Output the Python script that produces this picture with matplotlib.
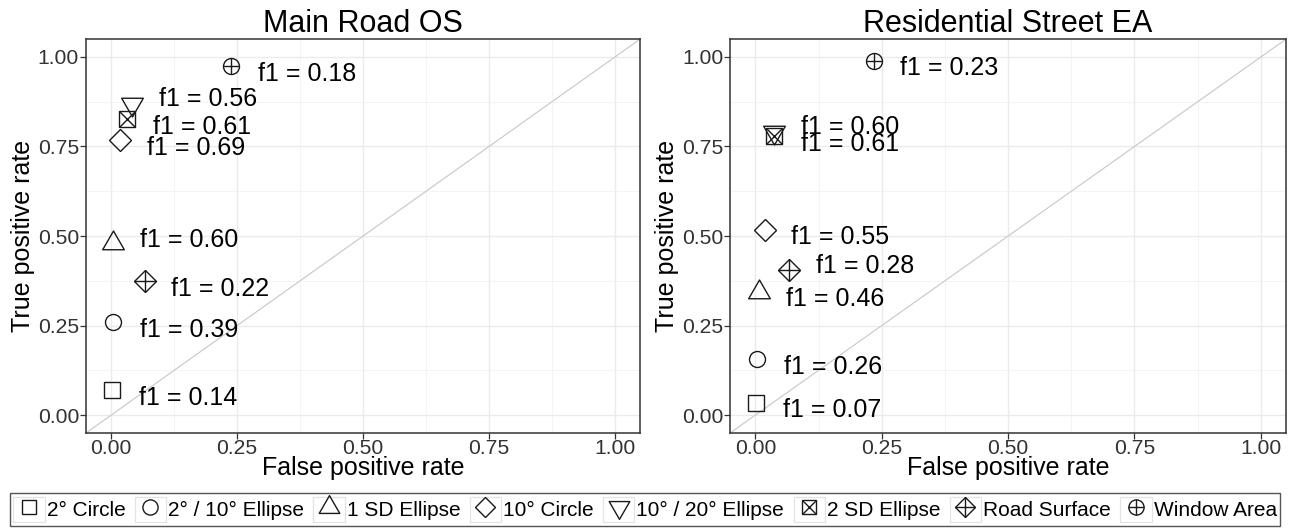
import matplotlib
matplotlib.use("Agg")
import matplotlib.pyplot as plt
from matplotlib.lines import Line2D
from matplotlib.patches import Rectangle
from matplotlib.path import Path
from matplotlib.legend_handler import HandlerTuple

plt.rcParams["font.family"] = ["Liberation Sans", "DejaVu Sans"]

# ---- data ----
methods = ["2° Circle", "2° / 10° Ellipse", "1 SD Ellipse", "10° Circle",
           "10° / 20° Ellipse", "2 SD Ellipse", "Road Surface", "Window Area"]

main_fpr = [0.002, 0.004, 0.004, 0.018, 0.042, 0.031, 0.067, 0.238]
main_tpr = [0.07, 0.26, 0.48, 0.767, 0.868, 0.826, 0.375, 0.975]
main_f1 = [0.14, 0.39, 0.60, 0.69, 0.56, 0.61, 0.22, 0.18]

res_fpr = [0.002, 0.004, 0.008, 0.018, 0.037, 0.037, 0.067, 0.234]
res_tpr = [0.035, 0.157, 0.345, 0.518, 0.79, 0.78, 0.406, 0.99]
res_f1 = [0.07, 0.26, 0.46, 0.55, 0.60, 0.61, 0.28, 0.23]

panels = [("Main Road OS", main_fpr, main_tpr, main_f1),
          ("Residential Street EA", res_fpr, res_tpr, res_f1)]

# ---- styling ----
INK = "#1A1A1A"
tri_up = Path([(0, 1), (-0.866, -0.5), (0.866, -0.5), (0, 1)],
              [Path.MOVETO, Path.LINETO, Path.LINETO, Path.CLOSEPOLY])
tri_down = Path([(0, -1), (-0.866, 0.5), (0.866, 0.5), (0, -1)],
                [Path.MOVETO, Path.LINETO, Path.LINETO, Path.CLOSEPOLY])

# each shape is a list of (marker, size) layers drawn on top of each other
shapes = [
    [("s", 11)],
    [("o", 11.5)],
    [(tri_up, 18)],
    [("D", 11)],
    [(tri_down, 18)],
    [("s", 11), ("x", 11)],
    [("D", 11), ("+", 15.5)],
    [("o", 11.5), ("+", 11.5)],
]

# label nudges in data units; a few labels were pushed upwards in the original
NUDGE_X = 0.15
NUDGE_Y = -0.022
label_dy = {
    (0, 2): 0.008, (0, 4): 0.015,
    (1, 4): 0.014, (1, 6): 0.011,
}


class KeyHandler(HandlerTuple):
    """Overlaid markers inside a faint ggplot-style key box."""

    def create_artists(self, legend, orig_handle, xdescent, ydescent,
                       width, height, fontsize, trans):
        arts = super().create_artists(legend, orig_handle, xdescent, ydescent,
                                      width, height, fontsize, trans)
        box = Rectangle((-xdescent, -ydescent), width, height, fc="none",
                        ec="#E3E3E3", lw=0.9, transform=trans)
        return [box] + arts


fig = plt.figure(figsize=(12.9, 5.28), dpi=100)
axes = [fig.add_axes([0.0667, 0.180, 0.4295, 0.746]),
        fig.add_axes([0.5660, 0.180, 0.4310, 0.746])]

ticks = [0, 0.25, 0.5, 0.75, 1.0]
minor = [0.125, 0.375, 0.625, 0.875]

for p, (ax, (title, fpr, tpr, f1)) in enumerate(zip(axes, panels)):
    ax.set_xlim(-0.05, 1.05)
    ax.set_ylim(-0.05, 1.05)
    ax.set_xticks(ticks)
    ax.set_yticks(ticks)
    ax.set_xticks(minor, minor=True)
    ax.set_yticks(minor, minor=True)
    ax.set_xticklabels([f"{t:.2f}" for t in ticks])
    ax.set_yticklabels([f"{t:.2f}" for t in ticks])
    ax.grid(which="major", color="#EBEBEB", lw=1.0, zorder=0)
    ax.grid(which="minor", color="#F2F2F2", lw=0.6, zorder=0)
    ax.set_axisbelow(True)
    ax.tick_params(which="major", length=4, width=0.9, color="#333333",
                   labelsize=15.2, labelcolor="#333333", pad=1)
    ax.tick_params(axis="x", pad=0)
    ax.tick_params(which="minor", length=0)
    for s in ax.spines.values():
        s.set_color("#333333")
        s.set_linewidth(1.1)

    ax.plot([-0.05, 1.05], [-0.05, 1.05], color="#CCCCCC", lw=0.9, zorder=1)

    for i in range(len(methods)):
        for mk, ms in shapes[i]:
            ax.plot(fpr[i], tpr[i], marker=mk, ms=ms, mfc="none", mec=INK,
                    mew=1.0, ls="none", zorder=3, clip_on=False)
        dy = label_dy.get((p, i), NUDGE_Y)
        ax.text(fpr[i] + NUDGE_X, tpr[i] + dy, f"f1 = {f1[i]:.2f}",
                ha="center", va="center", fontsize=18, color="black",
                zorder=4)

    ax.set_title(title, fontsize=22, pad=2)
    ax.set_xlabel("False positive rate", fontsize=18, labelpad=-1)
    ax.set_ylabel("True positive rate", fontsize=18, labelpad=2)

# legend
handles = []
for i in range(len(methods)):
    layers = tuple(Line2D([], [], marker=mk, ms=ms * 0.95, mfc="none",
                          mec=INK, mew=1.0, ls="none")
                   for mk, ms in shapes[i])
    handles.append(layers)
fig.legend(handles, methods, handler_map={tuple: KeyHandler(ndivide=1)},
           loc="lower center", bbox_to_anchor=(0.5, 0.0), ncol=8,
           fontsize=15, frameon=True, fancybox=False, edgecolor="#555555",
           framealpha=1, handlelength=1.5, handleheight=1.45,
           handletextpad=0.1, columnspacing=0.45, borderpad=0.18,
           borderaxespad=0.12)
fig.legends[0].get_frame().set_linewidth(1.0)

fig.savefig("out.png", dpi=100)
